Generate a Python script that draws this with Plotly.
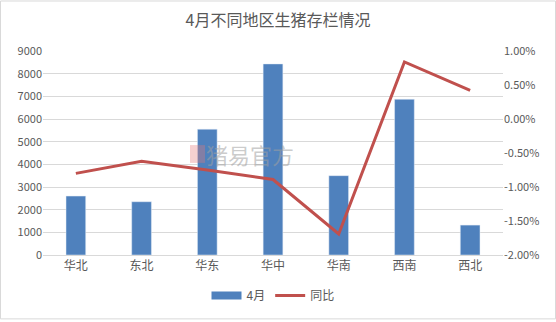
import plotly.graph_objects as go

regions = ["华北", "东北", "华东", "华中", "华南", "西南", "西北"]
stock_april = [2600, 2350, 5550, 8430, 3500, 6870, 1320]
yoy_pct = [-0.80, -0.62, -0.75, -0.89, -1.69, 0.84, 0.42]
left_ticks = [0, 1000, 2000, 3000, 4000, 5000, 6000, 7000, 8000, 9000]
right_ticks = [-2.0, -1.5, -1.0, -0.5, 0.0, 0.5, 1.0]

FONT = "Noto Sans CJK SC"
TXT = "#595959"
BLUE = "#4f81bd"

fig = go.Figure()
fig.add_trace(go.Bar(x=regions, y=stock_april, name="4月", marker_color=BLUE,
                     width=0.3, yaxis="y", showlegend=False))
# legend-only entry to get a wide rectangle swatch like the original
fig.add_trace(go.Scatter(x=[None], y=[None], name="4月", mode="lines",
                         line=dict(color=BLUE, width=8), yaxis="y"))
fig.add_trace(go.Scatter(x=regions, y=yoy_pct, name="同比", mode="lines",
                         line=dict(color="#c0504d", width=3), yaxis="y2"))

L, R, T, B = 43, 53, 51, 65
W, H = 556, 322
pw, ph = W - L - R, H - T - B

fig.update_layout(
    width=W, height=H,
    margin=dict(l=L, r=R, t=T, b=B),
    paper_bgcolor="white", plot_bgcolor="white",
    font=dict(family=FONT, color=TXT, size=11),
    title=dict(text="4月不同地区生猪存栏情况", x=0.5, xanchor="center", y=1 - 20 / H,
               yanchor="middle", font=dict(size=16, color=TXT, family=FONT)),
    xaxis=dict(showgrid=False, showline=True, linecolor="#d9d9d9", ticks="",
               tickfont=dict(size=12, color=TXT)),
    yaxis=dict(range=[0, 9000], tickvals=left_ticks, showgrid=True, gridcolor="#d9d9d9",
               zeroline=False, ticks="", tickfont=dict(size=11, color=TXT)),
    yaxis2=dict(range=[-2.0, 1.0], tickvals=right_ticks,
                ticktext=[f"{v:.2f}%" for v in right_ticks], overlaying="y", side="right",
                showgrid=False, zeroline=False, ticks="", tickfont=dict(size=11, color=TXT)),
    legend=dict(orientation="h", x=0.5, xanchor="center", y=-(298 - 257) / ph,
                yanchor="middle", font=dict(size=12, color=TXT)),
    showlegend=True,
    bargap=0.7,
)

fig.add_shape(type="rect", xref="paper", yref="paper",
              x0=-(L - 0.5) / pw, x1=(W - 0.5 - L) / pw,
              y0=-(H - 0.5 - (T + ph)) / ph, y1=1 + (T - 0.5) / ph,
              line=dict(color="#d9d9d9", width=1), layer="below")

# faint watermark
fig.add_shape(type="rect", xref="paper", yref="paper",
              x0=(190 - L) / pw, x1=(205 - L) / pw,
              y0=(257 - 164) / ph, y1=(257 - 146) / ph,
              fillcolor="rgba(230,120,120,0.35)", line=dict(width=0), layer="above")
fig.add_annotation(text="猪易官方", xref="paper", yref="paper",
                   x=(250 - L) / pw, y=(257 - 155) / ph, showarrow=False,
                   font=dict(size=22, color="rgba(160,160,160,0.55)", family=FONT))

fig.write_html("out.html")
